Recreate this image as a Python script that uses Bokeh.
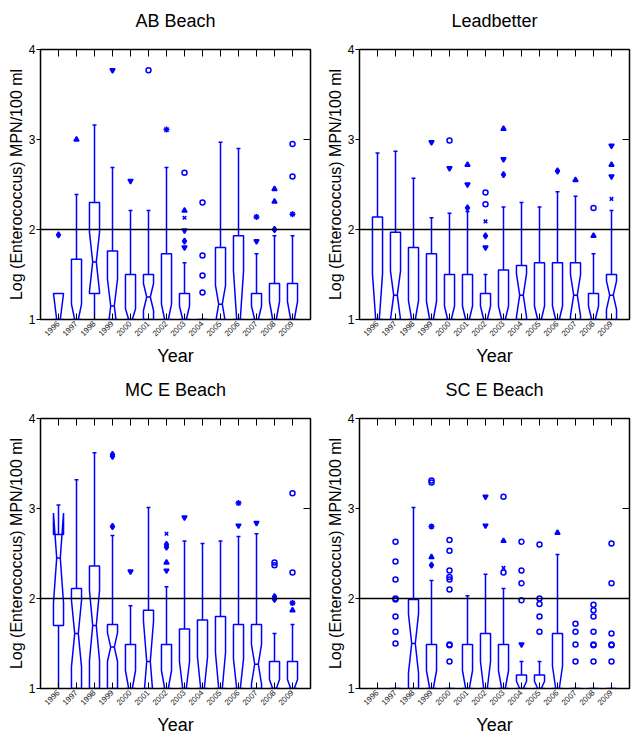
import math
from bokeh.plotting import figure
from bokeh.models import LinearAxis, FixedTicker, Span, Range1d
from bokeh.layouts import gridplot
from bokeh.embed import file_html
from bokeh.resources import INLINE

years = list(range(1996, 2010))
year_labels = [str(y) for y in years]
NaN = float("nan")

# ---------------- AB Beach ----------------
ab_q1 = [1, 1, 1.29, 1, 1, 1, 1, 1, 1, 1, 1, 1, 1, 1]
ab_med = [1, 1, 1.64, 1.15, 1, 1.25, 1, 1, 1, 1.17, 1, 1, 1, 1]
ab_q3 = [1.29, 1.67, 2.30, 1.76, 1.50, 1.50, 1.73, 1.29, 1, 1.80, 1.93, 1.29, 1.40, 1.40]
ab_nlo = [0.71, 0.83, 1.31, 0.85, 0.88, 1.10, 0.83, 0.85, 1, 0.96, 0.46, 0.85, 0.8, 0.8]
ab_nhi = [1.29, 1.17, 1.97, 1.45, 1.12, 1.40, 1.17, 1.15, 1, 1.38, 1.54, 1.15, 1.2, 1.2]
ab_wlo = [1, 1, 1, 1, 1, 1, 1, 1, 1, 1, 1, 1, 1, 1]
ab_whi = [1.29, 2.39, 3.16, 2.69, 2.21, 2.21, 2.69, 1.63, 1, 2.97, 2.90, 1.73, 1.93, 1.93]
ab_out_year = [1996, 1997, 1999, 2000, 2001, 2002,
               2003, 2003, 2003, 2003, 2003, 2003,
               2004, 2004, 2004, 2004,
               2007, 2007, 2008, 2008, 2008, 2009, 2009, 2009]
ab_out_val = [1.94, 3.00, 3.77, 2.54, 3.77, 3.11,
              2.63, 2.21, 2.13, 1.99, 1.87, 1.80,
              2.30, 1.71, 1.49, 1.30,
              2.14, 1.87, 2.45, 2.31, 2.00, 2.95, 2.59, 2.17]
ab_out_sym = ["d", "^", "v", "v", "o", "*",
              "o", "^", "x", "v", "d", "v",
              "o", "o", "o", "o",
              "*", "v", "^", "^", "d", "o", "o", "*"]

# ---------------- Leadbetter ----------------
lb_q1 = [1, 1, 1, 1, 1, 1, 1, 1, 1, 1, 1, 1, 1, 1]
lb_med = [1, 1.27, 1, 1, 1, 1, 1, 1, 1.27, 1, 1, 1.27, 1, 1.27]
lb_q3 = [2.14, 1.97, 1.80, 1.73, 1.50, 1.50, 1.29, 1.55, 1.60, 1.63, 1.63, 1.63, 1.29, 1.50]
lb_nlo = [0.49, 1.00, 0.79, 0.80, 0.85, 0.85, 0.85, 0.85, 1.03, 0.85, 0.85, 1.04, 0.85, 1.11]
lb_nhi = [1.51, 1.54, 1.21, 1.20, 1.15, 1.15, 1.15, 1.15, 1.51, 1.15, 1.15, 1.50, 1.15, 1.43]
lb_wlo = [1, 1, 1, 1, 1, 1, 1, 1, 1, 1, 1, 1, 1, 1]
lb_whi = [2.85, 2.87, 2.57, 2.13, 2.18, 2.20, 1.50, 2.25, 2.30, 2.25, 2.42, 2.37, 1.73, 2.21]
lb_out_year = [1999, 2000, 2000, 2001, 2001, 2001,
               2002, 2002, 2002, 2002, 2002,
               2003, 2003, 2003, 2006, 2007, 2008, 2008,
               2009, 2009, 2009, 2009]
lb_out_val = [2.97, 2.99, 2.68, 2.72, 2.50, 2.24,
              2.41, 2.28, 2.09, 1.93, 1.80,
              3.12, 2.78, 2.61, 2.65, 2.55, 2.24, 1.93,
              2.93, 2.72, 2.59, 2.34]
lb_out_sym = ["v", "o", "v", "^", "v", "d",
              "o", "o", "x", "d", "v",
              "^", "v", "d", "d", "^", "o", "^",
              "v", "^", "v", "x"]

# ---------------- MC E Beach ----------------
mc_q1 = [1.70, 1, 1, 1, 1, 1, 1, 1, 1, 1, 1, 1, 1, 1]
mc_med = [2.45, 1.61, 1.70, 1.46, 1, 1.30, 1, 1, 1, 1, 1, 1.27, 1, 1]
mc_q3 = [2.71, 2.11, 2.36, 1.71, 1.49, 1.87, 1.49, 1.66, 1.76, 1.80, 1.71, 1.71, 1.30, 1.30]
mc_nlo = [1.95, 1.24, 1.31, 1.30, 0.80, 0.85, 0.80, 0.70, 0.65, 0.60, 0.67, 1.05, 0.90, 0.90]
mc_nhi = [2.95, 1.98, 2.09, 1.62, 1.20, 1.75, 1.20, 1.30, 1.35, 1.40, 1.33, 1.49, 1.10, 1.10]
mc_wlo = [1, 1, 1, 1, 1, 1, 1, 1, 1, 1, 1, 1, 1, 1]
mc_whi = [3.04, 3.32, 3.62, 2.70, 1.92, 3.01, 2.13, 2.64, 2.61, 2.64, 2.69, 2.72, 1.61, 1.71]
mc_out_year = [1999, 1999, 1999, 2000,
               2002, 2002, 2002, 2002, 2002,
               2003, 2006, 2006, 2007,
               2008, 2008, 2008, 2008,
               2009, 2009, 2009, 2009]
mc_out_val = [3.58, 3.60, 2.80, 2.30,
              2.72, 2.60, 2.57, 2.40, 2.31,
              2.90, 3.06, 2.81, 2.84,
              2.40, 2.37, 2.02, 1.99,
              3.17, 2.29, 1.95, 1.87]
mc_out_sym = ["d", "d", "d", "v",
              "x", "d", "d", "^", "v",
              "v", "*", "v", "v",
              "o", "o", "d", "d",
              "o", "o", "*", "^"]

# ---------------- SC E Beach ----------------
sc_q1 = [NaN, 1, 1, 1, 1, 1, 1, 1, 1, 1, 1, 1, 1, 1]
sc_med = [NaN, 1, 1.50, 1, 1, 1, 1, 1, 1, 1, 1, 1, 1, 1]
sc_q3 = [NaN, 1, 1.99, 1.49, 1, 1.49, 1.61, 1.49, 1.15, 1.15, 1.61, 1, 1, 1]
sc_nlo = [NaN, 1, 1.17, 0.80, 1, 0.80, 0.70, 0.80, 0.92, 0.92, 0.75, 1, 1, 1]
sc_nhi = [NaN, 1, 1.83, 1.20, 1, 1.20, 1.30, 1.20, 1.08, 1.08, 1.25, 1, 1, 1]
sc_wlo = [NaN, 1, 1, 1, 1, 1, 1, 1, 1, 1, 1, 1, 1, 1]
sc_whi = [NaN, 1, 3.01, 2.20, 1, 2.03, 2.27, 2.11, 1.30, 1.30, 2.49, 1, 1, 1]
sc_out_year = [1997] * 8 + [1999] * 5 + [2000] * 9 + [2002] * 2 + [2003] * 4 + \
              [2004] * 5 + [2005] * 5 + [2006] + [2007] * 4 + [2008] * 7 + [2009] * 6
sc_out_val = [2.63, 2.41, 2.21, 2.00, 1.99, 1.80, 1.63, 1.50,
              3.31, 3.29, 2.80, 2.46, 2.37,
              2.65, 2.53, 2.31, 2.24, 2.21, 2.10, 1.49, 1.48, 1.30,
              3.13, 2.81,
              3.13, 2.64, 2.34, 2.29,
              2.63, 2.31, 2.17, 1.98, 1.49,
              2.60, 2.00, 1.94, 1.80, 1.63,
              2.73,
              1.72, 1.63, 1.49, 1.30,
              1.93, 1.87, 1.80, 1.63, 1.49, 1.48, 1.30,
              2.61, 2.17, 1.61, 1.49, 1.48, 1.30]
sc_out_sym = ["o"] * 8 + ["o", "o", "*", "^", "d"] + ["o"] * 9 + ["v", "v"] + \
             ["o", "^", "x", "o"] + ["o", "o", "o", "o", "v"] + ["o"] * 5 + ["^"] + \
             ["o"] * 4 + ["o"] * 7 + ["o"] * 6

BLUE = "#0000ff"
FONT = "Liberation Sans"
BOX_HW = 0.28
NOTCH_HW = 0.10
CAP_HW = 0.11


def build(name, q1, med, q3, nlo, nhi, wlo, whi, oyr, oval, osym, left, right):
    p = figure(width=316, height=369, x_range=Range1d(0, 15), y_range=Range1d(1, 4),
               output_backend="svg", toolbar_location=None,
               min_border_left=left, min_border_right=right,
               min_border_top=49, min_border_bottom=50)
    p.grid.visible = False
    p.outline_line_color = "black"
    p.outline_line_width = 1.5

    p.title.text = name
    p.title.text_font = FONT
    p.title.text_font_size = "18px"
    p.title.text_font_style = "normal"
    p.title.text_color = "black"
    p.title.align = "center"
    p.title.standoff = 10

    xb = p.below[0]
    xb.ticker = FixedTicker(ticks=list(range(1, 15)))
    xb.major_label_overrides = {i + 1: year_labels[i] for i in range(14)}
    xb.major_label_orientation = math.pi / 4
    xb.major_label_text_font = FONT
    xb.major_label_text_font_size = "8px"
    xb.major_label_text_color = "#222222"
    xb.major_label_standoff = 3
    xb.major_tick_in = 6
    xb.major_tick_out = 0
    xb.minor_tick_line_color = None
    xb.axis_line_color = "black"
    xb.axis_label = "Year"
    xb.axis_label_text_font = FONT
    xb.axis_label_text_font_size = "18px"
    xb.axis_label_text_font_style = "normal"
    xb.axis_label_text_color = "black"
    xb.axis_label_standoff = 4

    yl = p.left[0]
    yl.ticker = FixedTicker(ticks=[1, 2, 3, 4])
    yl.major_label_text_font = FONT
    yl.major_label_text_font_size = "12px"
    yl.major_label_text_color = "black"
    yl.major_label_standoff = 1
    yl.major_tick_in = 0
    yl.major_tick_out = 4
    yl.minor_tick_line_color = None
    yl.axis_line_color = "black"
    yl.axis_label = "Log (Enterococcus) MPN/100 ml"
    yl.axis_label_text_font = FONT
    yl.axis_label_text_font_size = "16px"
    yl.axis_label_text_font_style = "normal"
    yl.axis_label_text_color = "black"
    yl.axis_label_standoff = 1

    top = LinearAxis(ticker=FixedTicker(ticks=list(range(1, 15))),
                     major_label_text_font_size="1px", major_label_text_color=None,
                     major_tick_in=7, major_tick_out=0,
                     minor_tick_line_color=None, axis_line_color="black",
                     major_label_standoff=0)
    p.add_layout(top, "above")

    # invisible spacer between the frame and the title
    spacer = LinearAxis(ticker=FixedTicker(ticks=[7.5]),
                        major_label_text_font_size="1px", major_label_text_color=None,
                        major_tick_in=0, major_tick_out=14, major_tick_line_color=None,
                        minor_tick_line_color=None, axis_line_color=None,
                        major_label_standoff=0)
    p.add_layout(spacer, "above")

    rt = LinearAxis(ticker=FixedTicker(ticks=[1, 2, 3, 4]),
                    major_label_text_font_size="1px", major_label_text_color=None,
                    major_tick_in=7, major_tick_out=0,
                    minor_tick_line_color=None, axis_line_color="black",
                    major_label_standoff=0)
    p.add_layout(rt, "right")

    p.add_layout(Span(location=2, dimension="width", line_color="black", line_width=1.5))

    pxs, pys = [], []
    wx0, wy0, wx1, wy1 = [], [], [], []
    cx0, cx1, cy = [], [], []
    mx0, mx1, my = [], [], []
    for i in range(len(years)):
        if q1[i] != q1[i]:
            continue
        x = i + 1
        pxs.append([x - BOX_HW, x - BOX_HW, x - NOTCH_HW, x - BOX_HW, x - BOX_HW,
                    x + BOX_HW, x + BOX_HW, x + NOTCH_HW, x + BOX_HW, x + BOX_HW])
        pys.append([q1[i], nlo[i], med[i], nhi[i], q3[i],
                    q3[i], nhi[i], med[i], nlo[i], q1[i]])
        if whi[i] > q3[i]:
            wx0.append(x); wy0.append(q3[i]); wx1.append(x); wy1.append(whi[i])
            cx0.append(x - CAP_HW); cx1.append(x + CAP_HW); cy.append(whi[i])
        if wlo[i] < q1[i]:
            wx0.append(x); wy0.append(wlo[i]); wx1.append(x); wy1.append(q1[i])
        mx0.append(x - NOTCH_HW); mx1.append(x + NOTCH_HW); my.append(med[i])

    p.patches(pxs, pys, fill_color=None, line_color=BLUE, line_width=1.5)
    p.segment(wx0, wy0, wx1, wy1, line_color=BLUE, line_width=1.5)
    p.segment(cx0, cy, cx1, cy, line_color=BLUE, line_width=1.5)
    p.segment(mx0, my, mx1, my, line_color=BLUE, line_width=1.5)

    styles = {
        "o": dict(marker="circle", size=5, fill_color=None),
        "v": dict(marker="inverted_triangle", size=5, fill_color=BLUE),
        "^": dict(marker="triangle", size=5, fill_color=BLUE),
        "d": dict(marker="diamond", size=6, fill_color=BLUE),
        "*": dict(marker="asterisk", size=6, fill_color=BLUE),
        "x": dict(marker="x", size=5, fill_color=BLUE),
    }
    for s, st in styles.items():
        xs = [oyr[k] - 1995 for k in range(len(oyr)) if osym[k] == s]
        ys = [oval[k] for k in range(len(oyr)) if osym[k] == s]
        if xs:
            p.scatter(xs, ys, line_color=BLUE, line_width=1.5, **st)
    return p


p1 = build("AB Beach", ab_q1, ab_med, ab_q3, ab_nlo, ab_nhi, ab_wlo, ab_whi,
           ab_out_year, ab_out_val, ab_out_sym, 40, 6)
p2 = build("Leadbetter", lb_q1, lb_med, lb_q3, lb_nlo, lb_nhi, lb_wlo, lb_whi,
           lb_out_year, lb_out_val, lb_out_sym, 43, 3)
p3 = build("MC E Beach", mc_q1, mc_med, mc_q3, mc_nlo, mc_nhi, mc_wlo, mc_whi,
           mc_out_year, mc_out_val, mc_out_sym, 40, 6)
p4 = build("SC E Beach", sc_q1, sc_med, sc_q3, sc_nlo, sc_nhi, sc_wlo, sc_whi,
           sc_out_year, sc_out_val, sc_out_sym, 43, 3)

layout = gridplot([[p1, p2], [p3, p4]], toolbar_location=None)
open("out.html", "w").write(file_html(layout, INLINE))
